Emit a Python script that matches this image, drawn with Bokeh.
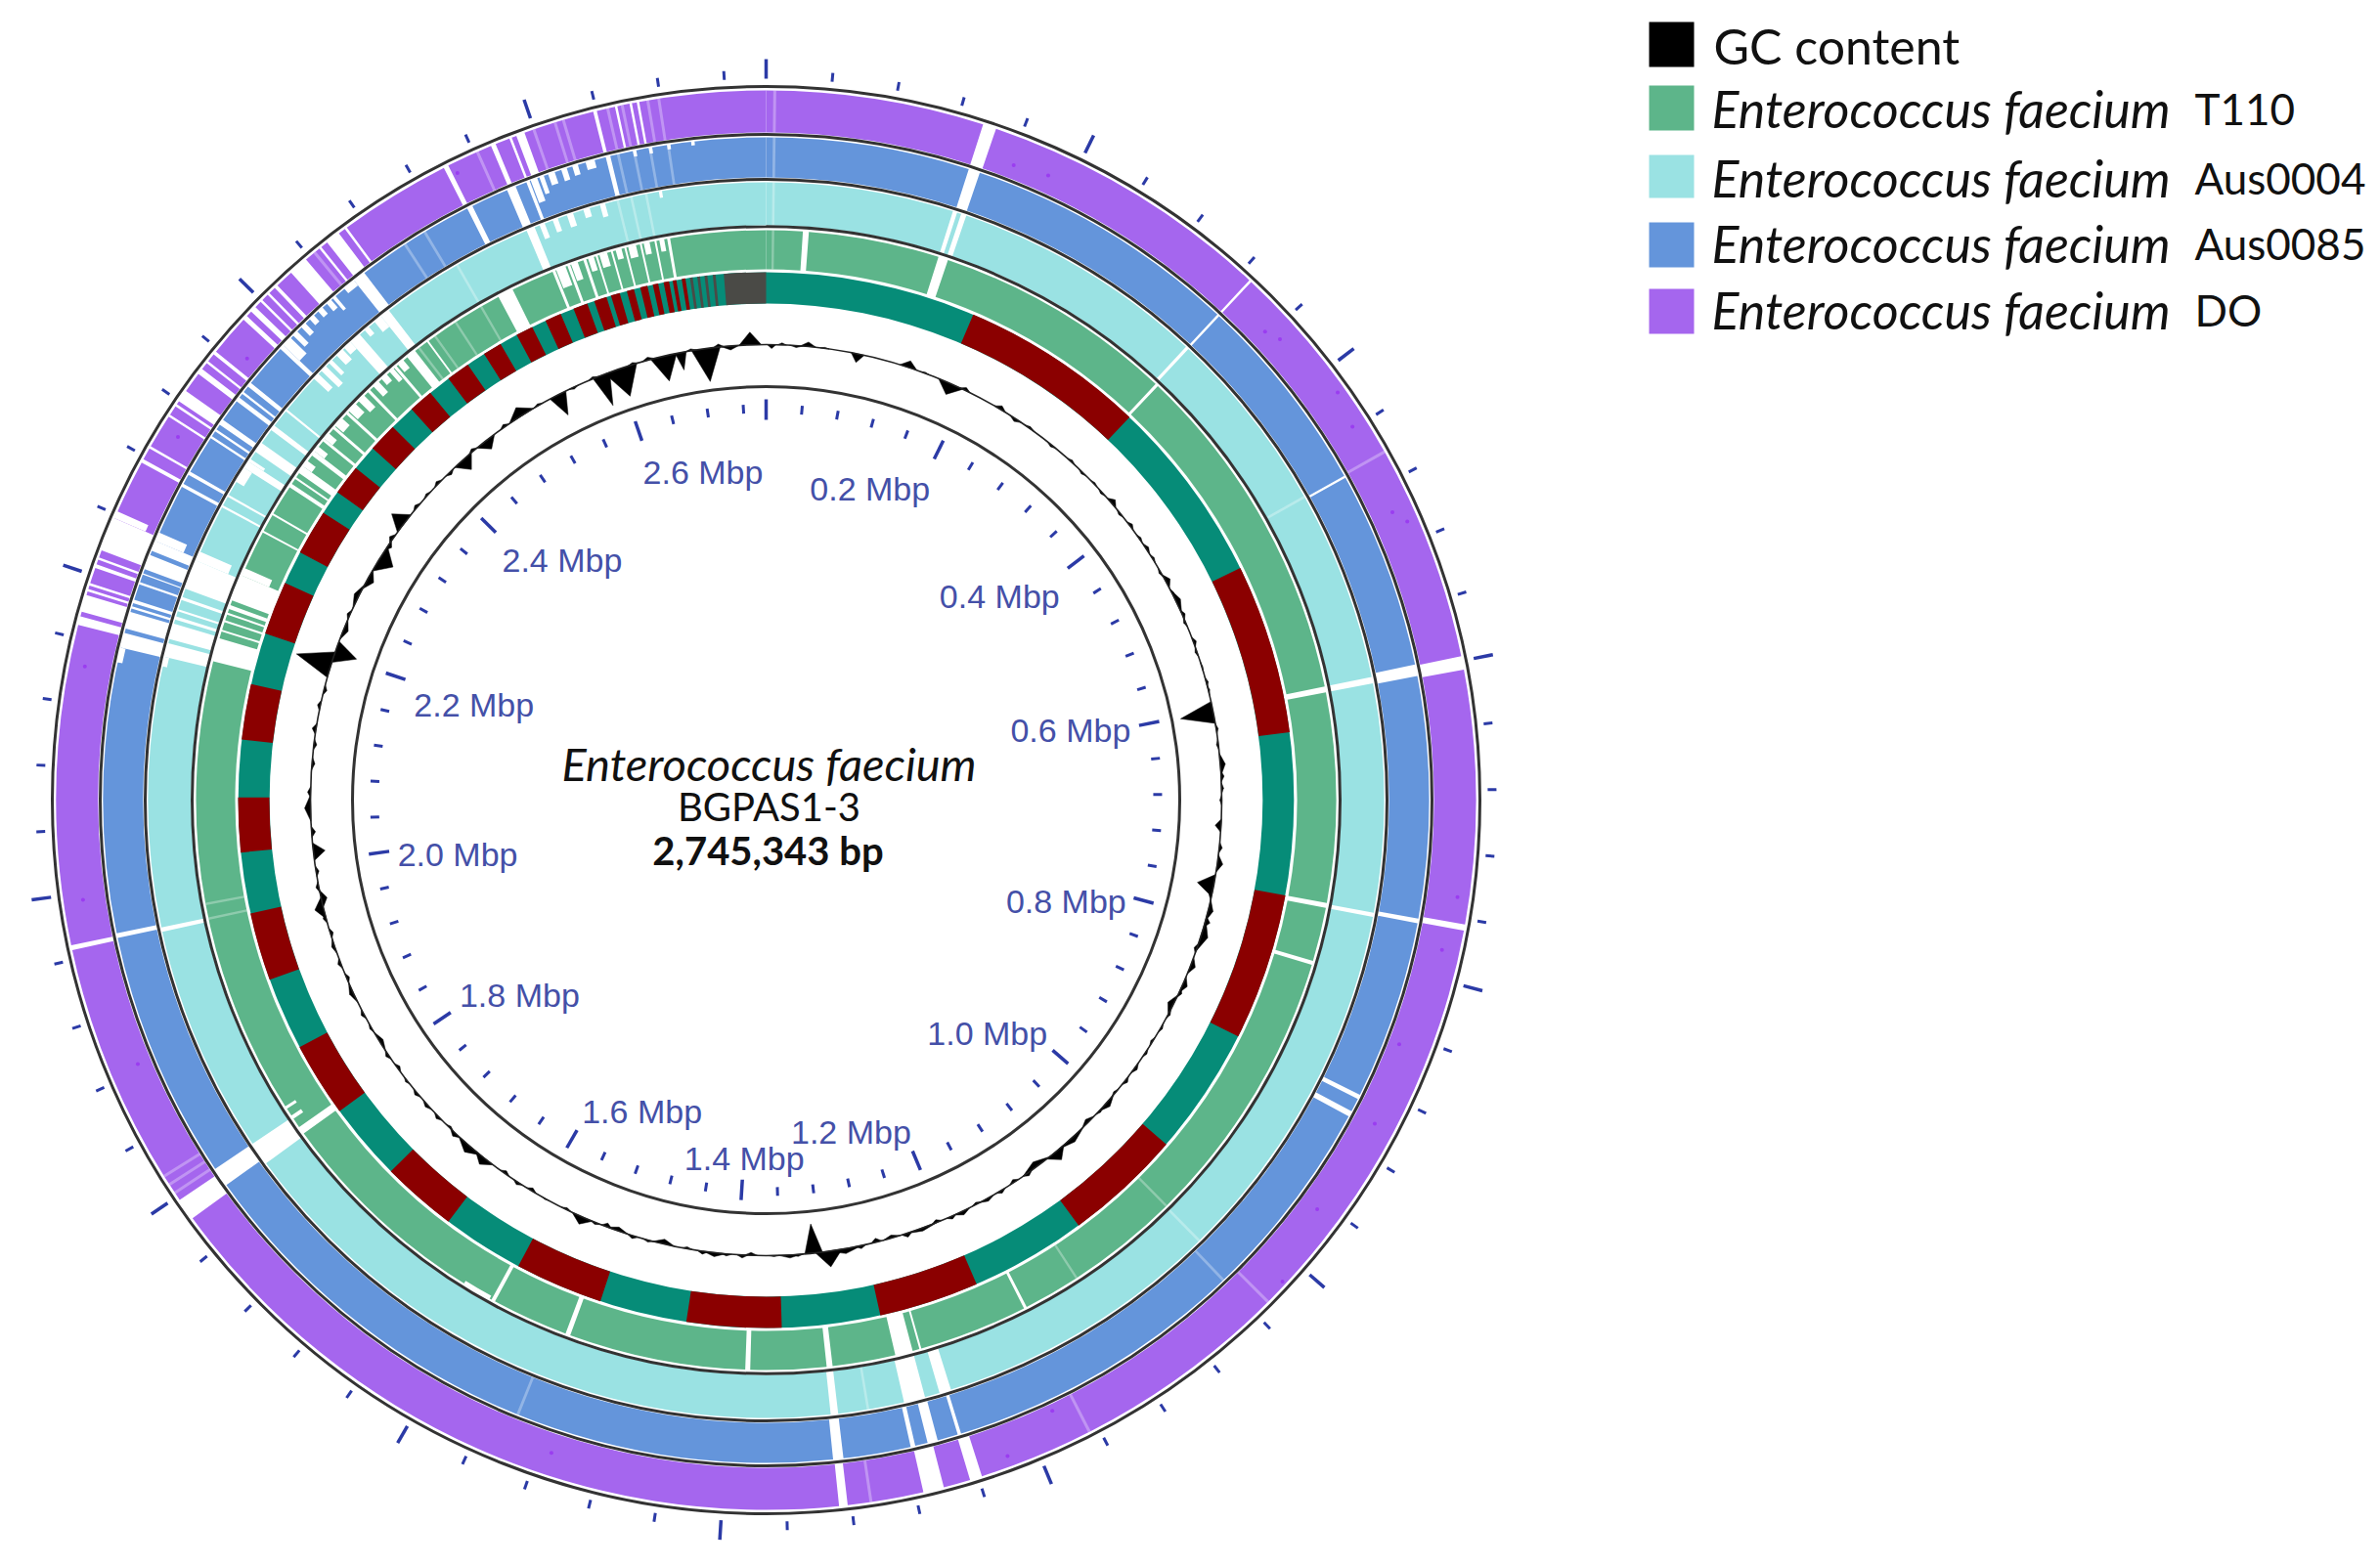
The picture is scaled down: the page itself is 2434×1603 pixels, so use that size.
import math
import numpy as np
from bokeh.plotting import figure
from bokeh.models import Range1d, ColumnDataSource
from bokeh.core.properties import value
from bokeh.embed import file_html
from bokeh.resources import INLINE

# ---------- data (genome positions given as degrees clockwise from 12 o'clock) ----------
genome_bp = 2745343
tick_step_mbp = 0.04
label_mbp = [0.2, 0.4, 0.6, 0.8, 1.0, 1.2, 1.4, 1.6, 1.8, 2.0, 2.2, 2.4, 2.6]

legend_names = ["GC content", "Enterococcus faecium", "Enterococcus faecium", "Enterococcus faecium", "Enterococcus faecium"]
legend_strains = ["", "T110", "Aus0004", "Aus0085", "DO"]
legend_colors = ["#000000", "#5DB58A", "#9AE2E3", "#6495DB", "#A566EE"]

contig_red = [(23.1,43.5),(63.9,82.6),(100.4,116.6),(130.7,143.7),(156.5,167.5),(178.3,188.7),(198.3,208.0),
              (217.0,225.3),(233.9,242.1),(250.1,257.6),(264.3,270.3),(276.6,282.7),(288.4,294.3),(298.0,303.0),
              (305.7,309.0),(311.8,315.0),(317.8,320.5),(323.0,325.6),(327.7,329.8),(331.8,333.7),(335.3,337.1),
              (338.6,340.2),(341.0,342.4),(342.9,343.9),(344.7,345.5),(346.2,347.0),(347.6,348.2),(348.8,349.4),
              (349.8,350.2),(350.8,351.2)]
contig_grey = [(351.7,352.0),(352.5,352.8),(353.3,353.6),(354.2,354.5),(355.4,360.0)]

DO_gaps = [(17.8,18.9),(42.9,43.1),(78.3,79.4),(100.1,100.6),(162.3,163.3),(165.5,167.2),(173.4,174.1),(233.9,235.7),
           (257.8,258.2),(284.3,285.0),(285.4,286.8),(287.1,287.3),(287.6,287.8),(289.1,289.4),(289.8,290.0),(290.6,293.4),
           (298.4,298.7),(299.7,299.9),(302.7,302.9),(303.7,303.9),(304.2,305.2),(306.9,307.4),(308.0,308.2),(308.9,309.2),
           (312.6,313.0),(313.5,314.0),(314.6,314.8),(315.4,315.6),(316.2,316.5),(318.0,319.6),(321.0,321.2),(321.8,323.0),
           (323.6,323.8),(333.0,333.4),(337.2,337.6),(338.8,339.0),(339.4,340.1),(345.9,346.2),(347.7,347.9),(348.9,349.1),
           (349.5,349.7)]
DO_notch = [(293.4,294.0,0.8)]
DO_faint = [0.7,60.6,135.0,152.9,171.5,236.4,237.2,238.0,320.5,336.0,340.9,342.7,343.4,347.1,348.3,350.4,351.3]
DO_speck_deg = [24.3,21.3,48.1,46.8,54.5,57.5,65.3,66.5,98,102.5,111.1,118,126.6,133,154.9,159.8,281.1,301.7,310.4,333.8,261.7,247.2,198.2]
DO_speck_r = [701,697,706,700,718,711,705,715,714,708,694,705,702,722,690,715,710,707,697,715,706,697,703]

Aus0085_gaps = [(17.8,18.8),(42.9,43.1),(60.7,60.9),(78.2,79.2),(100.3,100.7),(116.4,116.8),(118.0,118.5),(162.9,163.2),
                (165.0,165.9),(167.0,167.4),(173.3,174.2),(234.5,236.2),(258.0,258.4),(283.3,284.6),(285.0,286.5),(286.8,287.0),
                (287.3,287.6),(289.0,289.2),(289.9,290.0),(290.4,291.7),(292.1,293.0),(298.2,298.5),(299.4,299.7),(303.1,303.3),
                (303.8,304.0),(304.5,305.0),(307.0,307.4),(307.8,308.0),(308.6,309.0),(312.9,313.3),(321.6,322.7),(333.2,333.7),
                (337.0,337.8),(338.8,339.1),(346.0,346.4)]
Aus0085_notch = [(282.0,283.3,0.12),(293.0,293.8,0.75),(313.3,314.2,0.55),(314.5,315.0,0.4),(315.5,316.0,0.3),(316.5,317.0,0.2),
                 (317.5,318.0,0.2),(318.5,319.0,0.25),(319.2,319.5,0.4),(320.5,321.6,0.15),(339.2,339.8,0.6),(340.0,340.4,0.45),
                 (340.8,341.4,0.3),(342.0,342.5,0.3),(343.0,343.5,0.25),(344.2,345.0,0.2),(348.4,348.7,0.15),
                 (349.8,350.1,0.15),(351.4,351.7,0.12),(353.5,353.8,0.1)]
Aus0085_faint = [0.7,136.4,202.0,327.0,329.0,347.1,348.5,349.9,351.5]

Aus0004_gaps = [(17.6,18.0),(18.4,18.9),(42.8,43.1),(78.5,79.1),(100.5,100.9),(162.6,163.7),(165.1,167.1),(173.3,174.0),
                (234.0,236.2),(257.7,258.1),(283.4,284.7),(285.1,286.6),(287.0,287.3),(287.8,288.0),(288.9,289.2),(290.0,292.8),
                (298.3,298.5),(299.4,299.6),(302.5,303.2),(304.3,305.3),(306.8,307.3),(309.0,309.2),(317.8,318.9),(321.5,322.4),
                (337.2,338.0)]
Aus0004_notch = [(282.5,283.4,0.1),(292.8,293.7,0.8),(301.0,302.5,0.2),(303.2,303.5,0.4),(313.0,313.6,0.45),(314.0,314.6,0.55),
                 (315.0,315.4,0.4),(316.0,316.8,0.3),(317.0,317.8,0.2),(319.5,320.0,0.2),(320.7,321.5,0.3),(338.5,339.0,0.35),
                 (339.8,340.3,0.3),(341.2,341.8,0.3),(342.8,343.4,0.2),(344.4,344.9,0.3),(350.0,350.3,0.15)]
Aus0004_faint = [0.7,60.6,135.5,170.5,330.0,346.1,347.4,348.8]

T110_gaps = [(3.7,4.3),(17.6,18.6),(43.1,43.4),(78.5,79.1),(100.4,100.9),(106.4,106.8),(152.8,153.1),(164.2,164.4),(165.1,166.9),
             (173.3,173.9),(181.6,182.1),(200.1,200.6),(208.4,208.8),(234.2,235.0),(284.1,286.5),(287.2,287.4),(288.2,288.4),
             (289.0,289.2),(289.6,290.0),(290.5,293.2),(298.0,298.2),(300.0,300.2),(303.3,303.7),(304.3,304.5),(305.0,305.8),
             (307.2,307.7),(309.0,309.3),(310.6,310.9),(312.6,312.9),(315.7,316.0),(319.3,319.6),(321.0,322.0),(323.5,323.7),
             (332.0,333.6),(338.0,338.3),(339.6,339.9),(341.3,341.6),(342.6,342.8),(344.2,344.4),(345.6,345.8),(347.2,347.4),
             (348.7,348.9),(350.0,350.3)]
T110_notch = [(236.0,236.4,0.3),(237.2,237.5,0.3),(293.2,294.0,0.75),(209.0,212.0,0.08),(305.8,306.5,0.25),(307.7,308.3,0.3),
              (309.3,310.0,0.25),(311.0,312.0,0.25),(313.0,314.0,0.3),(314.4,315.2,0.4),(316.5,317.2,0.35),(317.6,318.3,0.2),
              (318.7,319.2,0.35),(319.8,320.5,0.25),(338.4,339.4,0.5),(340.0,340.7,0.45),(341.8,342.4,0.35),(343.0,343.8,0.35),
              (344.7,345.3,0.25),(346.0,346.8,0.3),(347.6,348.2,0.3),(349.2,349.7,0.3)]
T110_faint = [0.7,135.4,147.0,258.0,259.5,322.5,324.5,327.0,330.0]

# main excursions of the GC plot
gc_deg = [358,0.7,2,3.8,5.3,7.4,11.6,18.2,20.4,23.9,25.9,30.9,33.2,35.3,38.8,49.3,53,56.5,61.3,64.1,67,69.7,73,78.9,85.5,88.5,
          93.2,98,100.8,104,107.3,111.3,113.9,116.7,120,123.7,126,131.7,135,137.9,140.6,143.6,151,154.5,160,164,170,172.1,
          174,177,179,181.9,186.5,193,199,200.5,203.8,209,218.2,220.6,223,224,228,232,238,245,251.3,256.3,257.5,263.5,269,
          274.6,287.3,289,292,296.6,299,302,307.4,312,318.3,322,327.5,332.8,337.7,338.8,341.4,345,347,349.2,352.4,355.5]
gc_amp = [13,-4,2,-2,4.6,1,-9,7,1,-12,3,4,-3,2,-2,5,3,3,5,5,-2,3,1,-34,5,2,-6,5.6,-17,5,7,5,5,-6,2,2,3,5,-4,5,10,-6,3,4,3,-3,
          5,16,-30,3,1,-3,4,-5,-4,-4,8,1,8,8,4,-2,3,2,-4,4,3,9,-6,-12,6,-3,37,-23,-5,5,-7,-16,16,2,-13,-10,10,-23,2,-33,-30,3,
          -26,-18,-34,-4]
gc_wid = [1,0.4,0.4,0.6,0.7,0.4,0.6,0.8,0.4,1.2,0.5,0.6,0.6,0.6,0.5,0.6,0.5,0.6,0.7,1.2,0.5,0.5,0.5,1,1,0.5,0.6,0.8,1,1,1.5,0.8,0.8,1,
          0.5,0.5,0.6,1,0.8,1.5,1,1.5,0.8,0.8,1.5,0.8,1.5,1.2,0.8,1,0.5,0.6,1,1,1,0.5,1,0.4,1,1.3,0.6,0.5,0.6,0.4,1,1,0.7,1,0.8,0.8,1.2,
          0.6,1.2,1,1,1.2,1,1.3,1,0.5,1,1,1.3,0.8,0.5,0.8,1.5,0.6,1.2,0.5,1.3,0.8]
# smaller wiggles of the GC plot
gc_small_deg = [42,44,46,47.5,51,55,58,60,63,66,71,75,76,81,83,87,90,96,102,105.5,109,115,118,122,128,130,133,145,147,149,152.5,156,158,
                162,166,168,176,183,185,188,190,195,197,202,206,211,213,215,226,230,234,236,240,242,247,249,253,255,259,261,266,271,277,
                279,282,284,294,304,305,310,314,316,320,325,330,335,343,350.5,354]
gc_small_amp = [2,-2,1.5,-2,-2,2,2,-2,2,3,-2,2,1.5,2,-2,3,-2,3,-3,5,-3,3,2,-2,3,-2,2,3,-3,3,-2,3,-3,4,-4,3,2,3,2,3,-2,2,3,2,-2,-3,3,-3,3,3,-3,3,
                2,3,-3,3,-3,3,3,-3,-4,3,-3,4,3,-3,3,-4,4,3,3,-3,3,3,2,-2,2,2,3]

center_lines = ["Enterococcus faecium", "BGPAS1-3", "2,745,343 bp"]

# ---------- layout ----------
W, H = 2426, 1595
CX, CY = 783.0, 1603 - 818.0
R_CIRCLES = [730, 681, 635, 587, 423]
TRACKS = [
    (DO_gaps, DO_notch, DO_faint, 683, 726, legend_colors[4]),
    (Aus0085_gaps, Aus0085_notch, Aus0085_faint, 637, 678, legend_colors[3]),
    (Aus0004_gaps, Aus0004_notch, Aus0004_faint, 588, 632, legend_colors[2]),
    (T110_gaps, T110_notch, T110_faint, 543, 583, legend_colors[1]),
]
R_GC = 466
TEAL, RED, GREY = "#068C78", "#8B0000", "#4A4A46"
TICK = "#2B3AA6"
LABEL = "#4450A8"
label_nudge_x = [9, 4, 3, 4, 7, 12, -12, -8, -3, -3, -3, -6, -11]
label_nudge_y = [-3, 0, 6, -18, -11, -8, -5, -8, -11, -11, -8, 0, -5]

p = figure(width=W, height=H, x_range=Range1d(0, W), y_range=Range1d(8, 1603),
           output_backend="svg", toolbar_location=None, min_border=0, background_fill_color="white",
           outline_line_color=None)
p.axis.visible = False
p.grid.visible = False


def ang(deg):
    return np.pi / 2 - np.radians(deg)


def wedges(spans, r0, r1, color, alpha=1.0):
    a = np.array(spans, dtype=float).reshape(-1, 2)
    src = ColumnDataSource(dict(start=ang(a[:, 1]), end=ang(a[:, 0]),
                                inner=np.full(len(a), float(r0)) if np.isscalar(r0) else np.asarray(r0, float),
                                outer=np.full(len(a), float(r1)) if np.isscalar(r1) else np.asarray(r1, float)))
    p.annular_wedge(x=CX, y=CY, inner_radius="inner", outer_radius="outer", start_angle="start", end_angle="end",
                    source=src, fill_color=color, line_color=None, fill_alpha=alpha)


def complement(gaps):
    out, cur = [], 0.0
    for a, b in sorted(gaps):
        out.append((cur, a))
        cur = b
    out.append((cur, 360.0))
    return out


# homology tracks
for gaps, notch, faint, r0, r1, col in TRACKS:
    wedges(complement(gaps), r0, r1, col)
    n = np.array(notch, float)
    wedges(n[:, :2], r1 - n[:, 2] * (r1 - r0), np.full(len(n), r1 + 0.5), "white")
    f = np.array(faint, float)
    wedges(np.column_stack([f - 0.12, f + 0.12]), r0, r1, "white", 0.3)

st = np.radians(DO_speck_deg)
p.scatter(CX + np.array(DO_speck_r) * np.sin(st), CY + np.array(DO_speck_r) * np.cos(st), size=4,
          fill_color="#9A3DF0", line_color=None)

# contig track
wedges([(0, 360)], 508, 540, TEAL)
wedges(contig_red, 508, 540, RED)
wedges(contig_grey, 508, 540, GREY)

# GC plot
gd = np.concatenate([gc_deg, gc_small_deg])
ga = np.concatenate([gc_amp, gc_small_amp])
gw = np.concatenate([np.array(gc_wid) * 1.4, np.full(len(gc_small_deg), 0.7)])
xs, ys = [], []
for d, am, w in zip(gd, ga, gw):
    t = np.radians([d - w, d, d + w])
    r = np.array([R_GC, R_GC + am, R_GC])
    xs.append(CX + r * np.sin(t))
    ys.append(CY + r * np.cos(t))
p.patches(xs, ys, fill_color="black", line_color="black", line_width=0.5)
p.circle(x=[CX], y=[CY], radius=R_GC, fill_color=None, line_color="#222222", line_width=1.6)

# circles
p.circle(x=[CX] * 5, y=[CY] * 5, radius=R_CIRCLES, fill_color=None, line_color="#333333", line_width=3)

# ticks
pos = np.arange(0, genome_bp / 1e6, tick_step_mbp)
is_major = np.isclose(np.mod(pos + 1e-9, 0.2), 0, atol=1e-6)
th = pos * 1e6 / genome_bp * 2 * np.pi


def tick(r0, r1, lw, mask):
    p.segment(CX + r0 * np.sin(th[mask]), CY + r0 * np.cos(th[mask]),
              CX + r1 * np.sin(th[mask]), CY + r1 * np.cos(th[mask]), line_color=TICK, line_width=lw)


tick(738, 747, 3, ~is_major)
tick(738, 758, 3.5, is_major)
tick(396, 405, 3, ~is_major)
tick(389, 410, 3.5, is_major)

# position labels
lt = np.array(label_mbp) * 1e6 / genome_bp * 2 * np.pi
lx = CX + 392 * np.sin(lt) - 76 * np.clip(3 * np.sin(lt), -1, 1) + np.array(label_nudge_x)
ly = CY + 392 * np.cos(lt) - 30 * np.clip(2 * np.cos(lt), -1, 1) + np.array(label_nudge_y)
p.text(lx, ly, text=[f"{m:.1f} Mbp" for m in label_mbp], text_font=value("Liberation Sans"), text_font_size="34px",
       text_color=LABEL, text_align="center", text_baseline="middle")

# centre title
cy_lines = [1603 - 780, 1603 - 824, 1603 - 869]
p.text([786], [cy_lines[0]], text=[center_lines[0]], text_font=value("Lato"), text_font_size="47px",
       text_font_style="italic", text_color="#111111", text_align="center", text_baseline="middle")
p.text([786], [cy_lines[1]], text=[center_lines[1]], text_font=value("Lato"), text_font_size="40px",
       text_color="#111111", text_align="center", text_baseline="middle")
p.text([785], [cy_lines[2]], text=[center_lines[2]], text_font=value("Lato"), text_font_size="40px",
       text_font_style="bold", text_color="#111111", text_align="center", text_baseline="middle")

# legend
sw_top = [22, 87, 158, 227, 295]
sw_bot = [68, 133, 202, 273, 341]
txt_y = [46, 110, 181, 248, 316]
p.quad(left=1686, right=1732, top=[1603 - v for v in sw_top], bottom=[1603 - v for v in sw_bot],
       fill_color=legend_colors, line_color=None)
p.text([1752], [1603 - txt_y[0]], text=legend_names[:1], text_font=value("Lato"),
       text_font_size="50px", text_color="#111111", text_align="left", text_baseline="middle")
p.text([1750] * 4, [1603 - v for v in txt_y[1:]], text=legend_names[1:], text_font=value("Lato"),
       text_font_size="52px", text_color="#111111", text_align="left", text_baseline="middle", text_font_style="italic")
p.text([2244] * 4, [1603 - v for v in txt_y[1:]], text=legend_strains[1:], text_font=value("Lato"),
       text_font_size="44px", text_color="#111111", text_align="left", text_baseline="middle")

open("out.html", "w").write(file_html(p, INLINE))
